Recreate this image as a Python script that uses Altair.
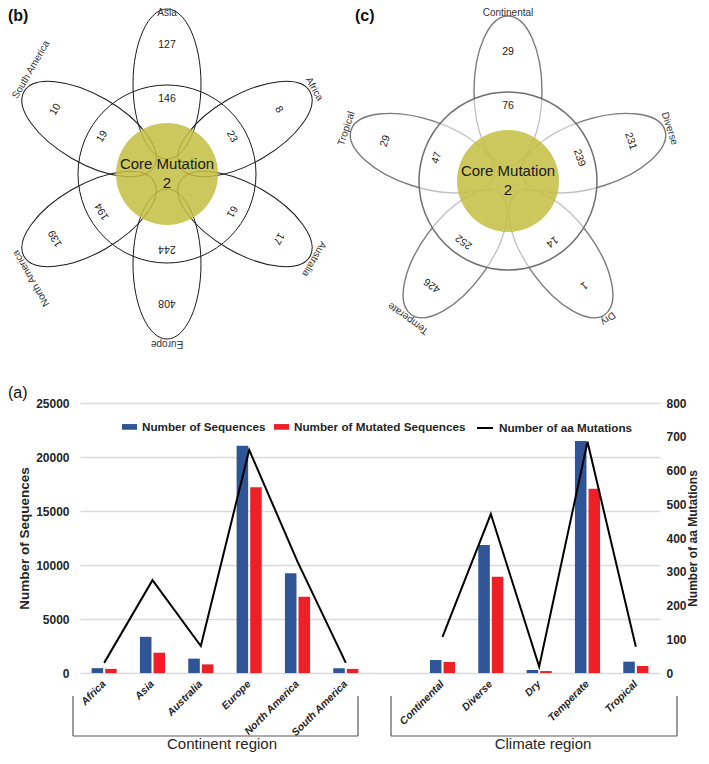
import math
import altair as alt
import pandas as pd

# ---------------- data ----------------
# (b) Venn of continents
CONTINENTS = ["Asia", "Africa", "Australia", "Europe", "North America", "South America"]
CONT_UNIQUE = [127, 8, 17, 408, 139, 10]
CONT_SHARED = [146, 23, 61, 244, 194, 19]
# (c) Venn of climates
CLIMATES_V = ["Continental", "Diverse", "Dry", "Temperate", "Tropical"]
CLIM_UNIQUE = [29, 231, 1, 426, 29]
CLIM_SHARED = [76, 239, 14, 252, 47]
CORE_MUTATION = 2

# (a) bar / line chart
CATEGORIES = ["Africa", "Asia", "Australia", "Europe", "North America", "South America",
              "Continental", "Diverse", "Dry", "Temperate", "Tropical"]
REGION = ["Continent"] * 6 + ["Climate"] * 5
N_SEQUENCES = [450, 3350, 1330, 21050, 9230, 450, 1200, 11850, 280, 21480, 1050]
N_MUTATED = [380, 1880, 800, 17200, 7070, 380, 1020, 8920, 180, 17070, 650]
N_AA_MUT = [30, 275, 80, 661, 330, 30, 107, 471, 19, 685, 78]
SERIES = ["Number of Sequences", "Number of Mutated Sequences"]
LINE_NAME = "Number of aa Mutations"
LEFT_TICKS = [0, 5000, 10000, 15000, 20000, 25000]
RIGHT_TICKS = [0, 100, 200, 300, 400, 500, 600, 700, 800]

# ---------------- styling / geometry ----------------
FONT = "Liberation Sans"
BLUE = "#2F5597"
RED = "#EE1F26"
YELLOW = "#C3BE42"

B_CX, B_CY = 167, 174
C_CX, C_CY = 508, 181
B_ANG = [90, 30, -30, -90, -150, 150]
C_ANG = [90, 18, -54, -126, 162]
PET_A, PET_B, PET_D = 75, 34, 90
RING_R, CORE_R = 89, 51
LABEL_R, UNIQUE_R, SHARED_R = 170, 129, 75

TOP_H, BOT_H, PLOT_W, GAP = 372, 270, 580, 23
SVG_W, SVG_H, LEFT_PAD = 693, 746, 72

K = 0.5523
RY = PET_B / PET_A
ELLIPSE = (f"M 1 0 C 1 {K*RY:.4f} {K:.4f} {RY:.4f} 0 {RY:.4f} "
           f"C {-K:.4f} {RY:.4f} -1 {K*RY:.4f} -1 0 "
           f"C -1 {-K*RY:.4f} {-K:.4f} {-RY:.4f} 0 {-RY:.4f} "
           f"C {K:.4f} {-RY:.4f} 1 {-K*RY:.4f} 1 0 Z")


def polar(cx, cy, r, th):
    t = math.radians(th)
    return cx + r * math.cos(t), cy - r * math.sin(t)


def petals(cx, cy, angles):
    rows = []
    for th in angles:
        x, y = polar(cx, cy, PET_D, th)
        rows.append({"px": x, "py": y, "size": (2 * PET_A) ** 2, "rot": (-th) % 360})
    return pd.DataFrame(rows)


def texts(cx, cy, angles, labels, r, keep_inside=False):
    rows = []
    for th, lab in zip(angles, labels):
        x, y = polar(cx, cy, r, th)
        rot = (90 - th) % 360
        if keep_inside:
            # slide labels along their own reading direction so they stay on the canvas
            dx, dy = math.cos(math.radians(rot)), math.sin(math.radians(rot))
            if x < 31 and abs(dx) > 1e-6:
                t = (31 - x) / abs(dx)
                sgn = 1 if dx > 0 else -1
                x, y = x + sgn * t * dx, y + sgn * t * dy
            y = max(y, 12.5)
        rows.append({"px": x, "py": y, "label": str(lab), "rot": rot})
    return pd.DataFrame(rows)


X = alt.X("px:Q", scale=alt.Scale(domain=[80, 660], nice=False, zero=False), axis=None)
Y = alt.Y("py:Q", scale=alt.Scale(domain=[8, 380], nice=False, zero=False, reverse=True), axis=None)
SIZE = alt.Size("size:Q", scale=None, legend=None)
ROT = alt.Angle("rot:Q", scale=None)

centers = pd.DataFrame({"px": [B_CX, C_CX], "py": [B_CY, C_CY]})
ring_df = centers.assign(size=(2 * RING_R) ** 2)
core_df = centers.assign(size=(2 * CORE_R) ** 2)

petal_b = alt.Chart(petals(B_CX, B_CY, B_ANG)).mark_point(
    shape=ELLIPSE, filled=False, stroke="#1a1a1a", strokeWidth=1, opacity=1
).encode(x=X, y=Y, size=SIZE, angle=ROT)
petal_c = alt.Chart(petals(C_CX, C_CY, C_ANG)).mark_point(
    shape=ELLIPSE, filled=False, stroke="#7a7a7a", strokeWidth=1.4, opacity=1
).encode(x=X, y=Y, size=SIZE, angle=ROT)
veil_c = alt.Chart(ring_df.iloc[[1]]).mark_point(
    shape="circle", filled=True, color="white", opacity=0.55, strokeWidth=0
).encode(x=X, y=Y, size=SIZE)
core = alt.Chart(core_df).mark_point(
    shape="circle", filled=True, color=YELLOW, opacity=0.85, strokeWidth=0
).encode(x=X, y=Y, size=SIZE)
ring_b = alt.Chart(ring_df.iloc[[0]]).mark_point(
    shape="circle", filled=False, stroke="#1a1a1a", strokeWidth=1, opacity=1
).encode(x=X, y=Y, size=SIZE)
ring_c = alt.Chart(ring_df.iloc[[1]]).mark_point(
    shape="circle", filled=False, stroke="#6e6e6e", strokeWidth=1.5, opacity=1
).encode(x=X, y=Y, size=SIZE)

set_labels = pd.concat([
    texts(B_CX, B_CY, B_ANG, CONTINENTS, LABEL_R, keep_inside=True),
    texts(C_CX, C_CY, C_ANG, CLIMATES_V, LABEL_R, keep_inside=True),
])
numbers = pd.concat([
    texts(B_CX, B_CY, B_ANG, CONT_UNIQUE, UNIQUE_R),
    texts(B_CX, B_CY, B_ANG, CONT_SHARED, SHARED_R),
    texts(C_CX, C_CY, C_ANG, CLIM_UNIQUE, UNIQUE_R),
    texts(C_CX, C_CY, C_ANG, CLIM_SHARED, SHARED_R),
])
core_text = pd.DataFrame({
    "px": [B_CX, B_CX, C_CX, C_CX],
    "py": [B_CY - 10, B_CY + 9, C_CY - 10, C_CY + 9],
    "label": ["Core Mutation", str(CORE_MUTATION)] * 2,
})
tags = pd.DataFrame({"px": [8, 355], "py": [16, 16], "label": ["(b)", "(c)"]})

lab_layer = alt.Chart(set_labels).mark_text(fontSize=10, color="#333333", baseline="middle").encode(
    x=X, y=Y, text="label:N", angle=ROT)
num_layer = alt.Chart(numbers).mark_text(fontSize=10.5, color="#1a1a1a", baseline="middle").encode(
    x=X, y=Y, text="label:N", angle=ROT)
core_layer = alt.Chart(core_text).mark_text(fontSize=15, color="#1a1a1a", baseline="middle").encode(
    x=X, y=Y, text="label:N")
tag_layer = alt.Chart(tags).mark_text(fontSize=16, fontWeight="bold", color="#111111",
                                      align="left", baseline="middle").encode(
    x=X, y=Y, text="label:N")

top = alt.layer(petal_b, petal_c, veil_c, core, ring_b, ring_c,
                lab_layer, num_layer, core_layer, tag_layer).properties(width=PLOT_W, height=TOP_H)

# ---------------- bar / line chart ----------------
X_DOMAIN = CATEGORIES[:6] + ["gap"] + CATEGORIES[6:]
bar_df = pd.DataFrame({
    "cat": CATEGORIES * 2,
    "region": REGION * 2,
    "series": [SERIES[0]] * len(CATEGORIES) + [SERIES[1]] * len(CATEGORIES),
    "value": N_SEQUENCES + N_MUTATED,
})
line_df = pd.DataFrame({"cat": CATEGORIES, "region": REGION, "aa": N_AA_MUT,
                        "lname": [LINE_NAME] * len(CATEGORIES)})

x_axis = alt.Axis(title=None, labelAngle=-45, labelExpr="datum.value == 'gap' ? '' : datum.value",
                  ticks=False, domain=False, grid=False, labelFontWeight="bold",
                  labelFontStyle="italic", labelFontSize=10.5, labelPadding=9,
                  labelAlign="right", labelBaseline="middle", labelColor="#262626")
XB = alt.X("cat:N", scale=alt.Scale(domain=X_DOMAIN, paddingInner=0.48, paddingOuter=0.24),
           axis=x_axis)

# legends are placed relative to the top-left of the whole (concatenated) figure
LEG_Y = TOP_H + GAP + 16
legend_common = dict(orient="none", title=None, direction="horizontal", labelFontSize=11.7,
                     labelFontWeight="bold", labelColor="#262626", labelLimit=300,
                     labelOffset=5, padding=0)

bars = alt.Chart(bar_df).mark_bar().encode(
    x=XB,
    xOffset=alt.XOffset("series:N", scale=alt.Scale(domain=SERIES, paddingInner=0.15, paddingOuter=0)),
    y=alt.Y("value:Q", scale=alt.Scale(domain=[0, 25000], nice=False),
            axis=alt.Axis(values=LEFT_TICKS, format="d", title="Number of Sequences",
                          titleFontSize=13.5, titleFontWeight="bold", titleColor="#262626",
                          titlePadding=4, labelFontSize=12, labelFontWeight="bold",
                          labelColor="#262626", labelPadding=11, ticks=False, domain=False,
                          grid=True, gridColor="#d9d9d9", gridWidth=1.3)),
    color=alt.Color("series:N", scale=alt.Scale(domain=SERIES, range=[BLUE, RED]), sort=SERIES,
                    legend=alt.Legend(legendX=42, legendY=LEG_Y, symbolType="M-1,-0.38H1V0.38H-1Z",
                                      symbolSize=225, symbolStrokeWidth=0, columnPadding=8,
                                      **legend_common)),
)

line = alt.Chart(line_df).mark_line(strokeWidth=2).encode(
    x=XB,
    y=alt.Y("aa:Q", scale=alt.Scale(domain=[0, 800], nice=False),
            axis=alt.Axis(orient="right", values=RIGHT_TICKS, format="d",
                          title="Number of aa Mutations", titleFontSize=12,
                          titleFontWeight="bold", titleColor="#262626", titlePadding=1,
                          titleAngle=270, titleBaseline="top",
                          labelFontSize=12, labelFontWeight="bold", labelColor="#262626",
                          labelPadding=6, ticks=False, domain=False, grid=False)),
    detail="region:N",
    stroke=alt.Stroke("lname:N", scale=alt.Scale(domain=[LINE_NAME], range=["#000000"]),
                      legend=alt.Legend(legendX=396, legendY=LEG_Y, symbolType="stroke",
                                        symbolSize=256, symbolStrokeWidth=2, **legend_common)),
)

anno = alt.Chart(pd.DataFrame({"k": [0]}))
BR = dict(color="#595959", strokeWidth=1.2)


def bracket(x1, x2, ytop, ybot):
    return [
        anno.mark_rule(**BR).encode(x=alt.value(x1), y=alt.value(ytop), y2=alt.value(ybot)),
        anno.mark_rule(**BR).encode(x=alt.value(x2), y=alt.value(ytop), y2=alt.value(ybot)),
        anno.mark_rule(**BR).encode(x=alt.value(x1), x2=alt.value(x2), y=alt.value(ybot)),
    ]


region_txt = [
    anno.mark_text(fontSize=15, color="#262626").encode(
        x=alt.value(142), y=alt.value(341), text=alt.value("Continent region")),
    anno.mark_text(fontSize=15, color="#262626").encode(
        x=alt.value(463), y=alt.value(341), text=alt.value("Climate region")),
    anno.mark_text(fontSize=16, color="#111111", align="left").encode(
        x=alt.value(-72), y=alt.value(-10), text=alt.value("(a)")),
]

bottom = alt.layer(bars, line, *bracket(-7, 278, 293, 333), *bracket(311, 597, 293, 333),
                   *region_txt).resolve_scale(y="independent").properties(width=PLOT_W, height=BOT_H)

# With autosize "none" the concatenated view reports a width equal to the panel width and a
# height of zero, so the padding alone defines the remaining canvas.
chart = alt.vconcat(top, bottom, spacing=GAP, bounds="flush").properties(
    autosize=alt.AutoSizeParams(type="none"),
    padding={"left": LEFT_PAD, "top": 0, "right": SVG_W - LEFT_PAD - PLOT_W, "bottom": SVG_H},
).configure(font=FONT).configure_view(strokeWidth=0)

chart.save("out.html", embed_options={"renderer": "svg", "actions": False})
